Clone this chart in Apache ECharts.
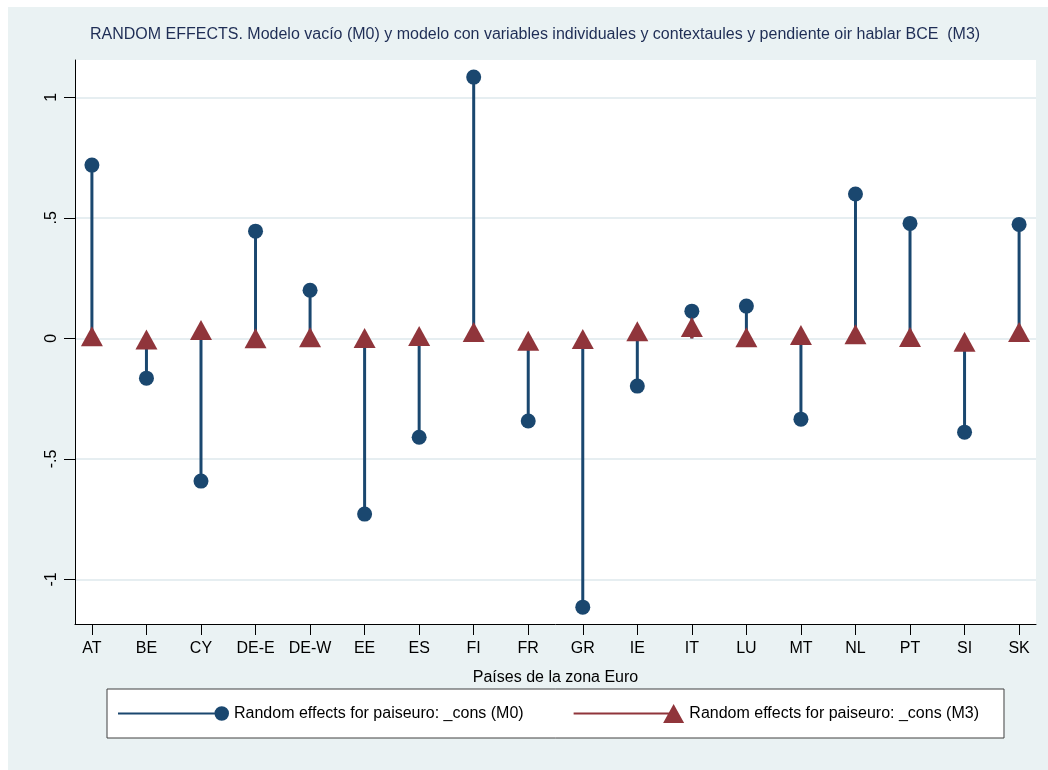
<!DOCTYPE html>
<html>
<head>
<meta charset="utf-8">
<script src="https://cdn.jsdelivr.net/npm/echarts@6/dist/echarts.min.js"></script>
<style>
html,body{margin:0;padding:0;background:#ffffff;width:1048px;height:770px;overflow:hidden;}
#chart{position:absolute;left:8px;top:7px;width:1040px;height:763px;}
</style>
</head>
<body>
<div id="chart"></div>
<script>
const countries = ['AT','BE','CY','DE-E','DE-W','EE','ES','FI','FR','GR','IE','IT','LU','MT','NL','PT','SI','SK'];
const m0 = [0.719,-0.165,-0.592,0.445,0.200,-0.729,-0.410,1.084,-0.343,-1.115,-0.198,0.113,0.134,-0.335,0.599,0.477,-0.389,0.473];
const m3 = [0.009,-0.005,0.035,0.001,0.005,0.002,0.010,0.026,-0.010,-0.003,0.030,0.047,0.005,0.014,0.017,0.006,-0.014,0.027];
const yTicks = [-1,-0.5,0,0.5,1];
const yTickLabels = ['-1','-.5','0','.5','1'];
const titleText = 'RANDOM EFFECTS. Modelo vacío (M0) y modelo con variables individuales y contextaules y pendiente oir hablar BCE  (M3)';
const xTitle = 'Países de la zona Euro';
const nameM0 = 'Random effects for paiseuro: _cons (M0)';
const nameM3 = 'Random effects for paiseuro: _cons (M3)';

const NAVY = '#1a476f';
const MAROON = '#90353b';
const FONT = 'Liberation Sans, Arial, sans-serif';

const idx = countries.map((c,i)=>i);
const dataM0 = m0.map((v,i)=>[i,v]);
const dataM3 = m3.map((v,i)=>[i,v]);

function stem(color){
  return function(params, api){
    const x = api.value(0), v = api.value(1);
    const p0 = api.coord([x,0]);
    const p1 = api.coord([x,v]);
    return {type:'line', shape:{x1:p0[0],y1:p0[1],x2:p1[0],y2:p1[1]}, style:{stroke:color,lineWidth:3}};
  };
}

const chart = echarts.init(document.getElementById('chart'), null, {renderer:'canvas'});
chart.setOption({
  backgroundColor:'#eaf2f3',
  animation:false,
  textStyle:{fontFamily:FONT},
  title:{
    text:titleText, left:82, top:20, padding:0,
    textStyle:{fontSize:16, fontWeight:'normal', color:'#1e2d55', fontFamily:FONT}
  },
  grid:{left:67, top:53, width:961, height:564, show:true, backgroundColor:'#ffffff', borderWidth:0, containLabel:false},
  xAxis:{
    type:'value', min:-0.31, max:17.31,
    name:xTitle, nameLocation:'middle', nameGap:46,
    nameTextStyle:{fontSize:16, color:'#000', fontFamily:FONT},
    axisLine:{show:true, onZero:false, lineStyle:{color:'#000', width:1}},
    axisTick:{show:true, length:11, customValues:idx, lineStyle:{color:'#000'}},
    axisLabel:{show:true, margin:17, customValues:idx, fontSize:16, color:'#000', fontFamily:FONT,
      formatter:function(v){ return countries[Math.round(v)] || ''; }},
    splitLine:{show:false}
  },
  yAxis:{
    type:'value', min:-1.185, max:1.155,
    axisLine:{show:true, onZero:false, lineStyle:{color:'#000', width:1}},
    axisTick:{show:true, length:11, customValues:yTicks, lineStyle:{color:'#000'}},
    axisLabel:{show:true, rotate:90, margin:15, customValues:yTicks, fontSize:16, color:'#000', fontFamily:FONT,
      formatter:function(v){ const k = yTicks.findIndex(t=>Math.abs(t-v)<1e-9); return k>=0 ? yTickLabels[k] : ''; }},
    splitLine:{show:true, lineStyle:{color:'#e6eef1', width:2}}
  },
  legend:{
    left:99, top:682,
    padding:[15,25,15,11],
    backgroundColor:'#ffffff', borderColor:'#404040', borderWidth:1, borderRadius:0,
    itemWidth:111, itemHeight:19, itemGap:50, itemTextGap:8,
    textStyle:{fontSize:16, color:'#000', fontFamily:FONT},
    data:[
      {name:nameM0, icon:'path://M0,6.1h94v1.8h-94z M93,7a7,7 0 1,1 14,0a7,7 0 1,1 -14,0z'},
      {name:nameM3, icon:'path://M0,8.6h96v1.8h-96z M100,0L110.5,19L89.5,19z'}
    ]
  },
  series:[
    {type:'custom', name:'stemM0', renderItem:stem(NAVY), data:dataM0, itemStyle:{color:NAVY}, z:2},
    {type:'scatter', name:nameM0, data:dataM0, symbol:'circle', symbolSize:15, itemStyle:{color:NAVY, opacity:1}, z:3},
    {type:'custom', name:'stemM3', renderItem:stem(MAROON), data:dataM3, itemStyle:{color:MAROON}, z:4},
    {type:'scatter', name:nameM3, data:dataM3, symbol:'triangle', symbolSize:[22,20], itemStyle:{color:MAROON, opacity:1}, z:5}
  ]
});
</script>
</body>
</html>
